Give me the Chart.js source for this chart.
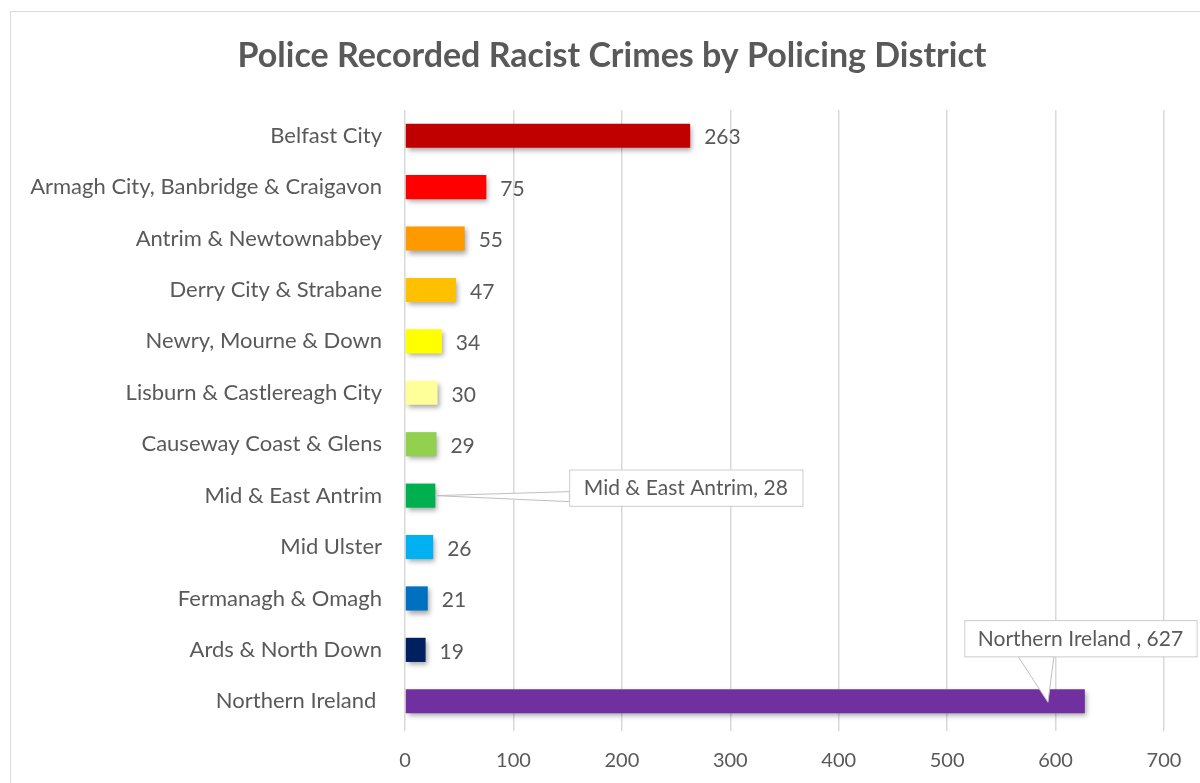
<!DOCTYPE html>
<html>
<head>
<meta charset="utf-8">
<script src="https://cdn.jsdelivr.net/npm/chart.js@4"></script>
<style>
  body { margin: 0; background: #fff; }
  #wrap { position: relative; width: 1200px; height: 783px; overflow: hidden; }
  #frame { position: absolute; left: 10px; top: 11px; width: 1220px; height: 800px; border: 1px solid #D9D9D9; }
  canvas { position: absolute; left: 0; top: 0; }
</style>
</head>
<body>
<div id="wrap">
  <div id="frame"></div>
  <canvas id="myChart" width="1200" height="783"></canvas>
</div>
<script>
const districts = [
  "Belfast City",
  "Armagh City, Banbridge & Craigavon",
  "Antrim & Newtownabbey",
  "Derry City & Strabane",
  "Newry, Mourne & Down",
  "Lisburn & Castlereagh City",
  "Causeway Coast & Glens",
  "Mid & East Antrim",
  "Mid Ulster",
  "Fermanagh & Omagh",
  "Ards & North Down",
  "Northern Ireland ",
];
const crimes = [263, 75, 55, 47, 34, 30, 29, 28, 26, 21, 19, 627];
const barColours = [
  "#C00000", "#FF0000", "#FF9900", "#FFC000", "#FFFF00", "#FFFF99",
  "#92D050", "#00B050", "#00B0F0", "#0070C0", "#002060", "#7030A0",
];
const xTicks = [0, 100, 200, 300, 400, 500, 600, 700];
const calloutIdx = [7, 11];

const textColour = "#595959";
const font = "Lato, 'Liberation Sans', sans-serif";

// shadow under the bars, like the Excel original
const shadowPlugin = {
  id: "barShadow",
  beforeDatasetsDraw(chart) {
    const ctx = chart.ctx;
    ctx.save();
    ctx.shadowColor = "rgba(0,0,0,0.35)";
    ctx.shadowBlur = 5;
    ctx.shadowOffsetX = 2;
    ctx.shadowOffsetY = 3;
  },
  afterDatasetsDraw(chart) {
    chart.ctx.restore();
  },
};

function callout(ctx, box, tip, base, text) {
  // box = [x, y, w, h], tip = [x, y], base = two points on the box edge
  ctx.save();
  ctx.fillStyle = "#fff";
  ctx.strokeStyle = "#BFBFBF";
  ctx.lineWidth = 1;
  ctx.beginPath();
  ctx.moveTo(base[0][0], base[0][1]);
  ctx.lineTo(tip[0], tip[1]);
  ctx.lineTo(base[1][0], base[1][1]);
  ctx.closePath();
  ctx.fill();
  ctx.stroke();
  ctx.fillRect(box[0], box[1], box[2], box[3]);
  ctx.strokeRect(box[0] + 0.5, box[1] + 0.5, box[2], box[3]);
  ctx.fillRect(box[0] + 1, box[1] + 1, box[2] - 1, box[3] - 1);
  ctx.fillStyle = textColour;
  ctx.font = "21px " + font;
  ctx.textAlign = "center";
  ctx.textBaseline = "middle";
  ctx.fillText(text, box[0] + box[2] / 2, box[1] + box[3] / 2 + 1);
  ctx.restore();
}

const labelPlugin = {
  id: "valueLabels",
  afterDatasetsDraw(chart) {
    const ctx = chart.ctx;
    const meta = chart.getDatasetMeta(0);
    const xs = chart.scales.x;
    ctx.save();
    ctx.fillStyle = textColour;
    ctx.font = "21px " + font;
    ctx.textBaseline = "middle";
    ctx.textAlign = "left";
    meta.data.forEach((bar, i) => {
      if (calloutIdx.includes(i)) return;
      ctx.fillText(String(crimes[i]), bar.x + 14, bar.y + 2);
    });
    ctx.restore();

    // Mid & East Antrim callout
    const b1 = meta.data[7];
    callout(ctx, [b1.x + 134, b1.y - 26, 233, 36], [b1.x, b1.y], [[b1.x + 134, b1.y - 4], [b1.x + 134, b1.y + 6]],
      districts[7] + ", " + crimes[7]);

    // Northern Ireland callout
    const b2 = meta.data[11];
    const tipX = xs.getPixelForValue(593);
    callout(ctx, [xs.getPixelForValue(516), b2.y - 81, 232, 36], [tipX, b2.y + 1],
      [[tipX - 30, b2.y - 45], [tipX + 6, b2.y - 45]],
      districts[11] + ", " + crimes[11]);

    // title
    ctx.save();
    ctx.fillStyle = textColour;
    ctx.font = "bold 34px " + font;
    ctx.textAlign = "center";
    ctx.textBaseline = "middle";
    ctx.fillText("Police Recorded Racist Crimes by Policing District", 612, 56);
    ctx.restore();
  },
};

const ctx = document.getElementById("myChart").getContext("2d");

new Chart(ctx, {
  type: "bar",
  data: {
    labels: districts,
    datasets: [
      {
        data: crimes,
        backgroundColor: barColours,
        borderWidth: 0,
        categoryPercentage: 1,
        barPercentage: 0.47,
      },
    ],
  },
  options: {
    indexAxis: "y",
    responsive: false,
    animation: false,
    layout: {
      padding: { top: 110, right: 36, bottom: 0, left: 0 },
    },
    plugins: {
      legend: { display: false },
      tooltip: { enabled: false },
    },
    scales: {
      x: {
        min: 0,
        max: 700,
        afterBuildTicks: (scale) => {
          scale.ticks = xTicks.map((v) => ({ value: v }));
        },
        afterFit: (scale) => {
          scale.height = 56;
        },
        grid: { color: "#D9D9D9", lineWidth: 1.5, drawTicks: true, tickLength: 4 },
        border: { display: false },
        ticks: {
          color: textColour,
          font: { family: font, size: 20 },
          padding: 18,
        },
      },
      y: {
        afterFit: (scale) => {
          scale.width = 405;
        },
        grid: { display: false },
        border: { display: false },
        ticks: {
          color: textColour,
          font: { family: font, size: 22 },
          padding: 15,
          autoSkip: false,
        },
      },
    },
  },
  plugins: [shadowPlugin, labelPlugin],
});
</script>
</body>
</html>
